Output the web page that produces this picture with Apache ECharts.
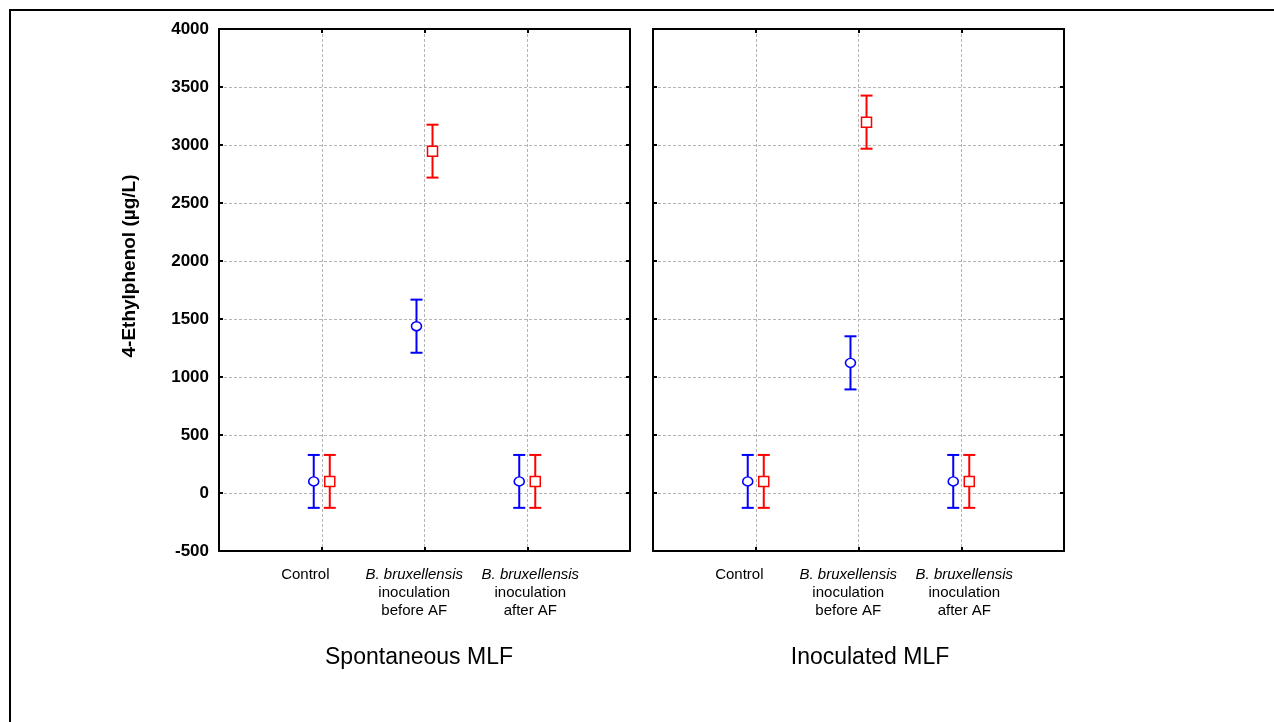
<!DOCTYPE html>
<html>
<head>
<meta charset="utf-8">
<script src="https://cdn.jsdelivr.net/npm/echarts@6/dist/echarts.min.js"></script>
<style>html,body{margin:0;padding:0;background:#fff;}#c{width:1274px;height:722px;}</style>
</head>
<body>
<div id="c"></div>
<script>
// ---- data ----
const categories = ['Control', 'B. bruxellensis|inoculation|before AF', 'B. bruxellensis|inoculation|after AF'];
const categoryPos = [1, 2, 3];
const labelPos = [0.84, 1.9, 3.03];   // where the category text sits (axis units)
const panelTitles = ['Spontaneous MLF', 'Inoculated MLF'];
const yTicks = [-500, 0, 500, 1000, 1500, 2000, 2500, 3000, 3500, 4000];
const yTitle = '4-Ethylphenol (µg/L)';
// Spontaneous MLF
const spontBlueMean = [100, 1438, 100];
const spontBlueErr  = [228, 229, 228];
const spontRedMean  = [100, 2947, 100];
const spontRedErr   = [228, 228, 228];
// Inoculated MLF
const inocBlueMean = [100, 1122, 100];
const inocBlueErr  = [228, 229, 228];
const inocRedMean  = [100, 3197, 100];
const inocRedErr   = [228, 229, 228];

const BLUE = '#0000ff', RED = '#ff0000';
const OFF = 0.078;
const FONT = 'Liberation Sans, Arial, Helvetica, sans-serif';

function pts(mean, err, off) {
  return mean.map((m, i) => [categoryPos[i] + off, m, m - err[i], m + err[i]]);
}

function errSeries(gi, data, color) {
  return {
    type: 'custom', xAxisIndex: gi * 3, yAxisIndex: gi * 2, z: 3,
    data: data,
    renderItem: function (params, api) {
      const x = api.value(0);
      const lo = api.coord([x, api.value(2)]);
      const hi = api.coord([x, api.value(3)]);
      const hw = 6;
      const st = { stroke: color, lineWidth: 2, fill: null };
      return {
        type: 'group',
        children: [
          { type: 'line', shape: { x1: lo[0], y1: lo[1], x2: hi[0], y2: hi[1] }, style: st },
          { type: 'line', shape: { x1: lo[0] - hw, y1: lo[1], x2: lo[0] + hw, y2: lo[1] }, style: st },
          { type: 'line', shape: { x1: hi[0] - hw, y1: hi[1], x2: hi[0] + hw, y2: hi[1] }, style: st }
        ]
      };
    }
  };
}
function markSeries(gi, data, color, symbol, size) {
  return {
    type: 'scatter', xAxisIndex: gi * 3, yAxisIndex: gi * 2, z: 5,
    symbol: symbol, symbolSize: size,
    itemStyle: { color: '#fff', borderColor: color, borderWidth: 1.5, opacity: 1 },
    emphasis: { disabled: true },
    data: data.map(d => [d[0], d[1]])
  };
}

function labelFmt(v, idx) {
  let i = labelPos.indexOf(v);
  if (i < 0) i = idx;
  if (i < 0 || i >= categories.length) return '';
  const parts = categories[i].split('|');
  if (parts.length === 1) return '{n|' + parts[0] + '}';
  return '{i|' + parts[0] + '}\n{n|' + parts[1] + '}\n{n|' + parts[2] + '}';
}

const gridLeft = [219, 653];
const titleX = [419, 870];
const grids = [], xAxes = [], yAxes = [];
const splitStyle = { color: '#b4b4b4', width: 1, type: [3, 2] };
const axLine = { show: true, onZero: false, lineStyle: { color: '#000', width: 2 } };
const axTick = { show: true, inside: true, length: 4, lineStyle: { color: '#000', width: 2 } };
gridLeft.forEach((l, gi) => {
  grids.push({ left: l, top: 29, width: 411, height: 522, show: false });
  xAxes.push({
    type: 'value', gridIndex: gi, min: 0, max: 4, interval: 1, position: 'bottom',
    axisLine: axLine, axisTick: axTick,
    splitLine: { show: true, lineStyle: splitStyle },
    axisLabel: { show: false }
  });
  xAxes.push({
    type: 'value', gridIndex: gi, min: 0, max: 4, interval: 1, position: 'top',
    axisLine: axLine, axisTick: axTick,
    splitLine: { show: false }, axisLabel: { show: false }
  });
  xAxes.push({
    type: 'value', gridIndex: gi, min: 0, max: 4, position: 'bottom', offset: 0,
    axisLine: { show: false, onZero: false }, axisTick: { show: false }, splitLine: { show: false },
    axisLabel: {
      show: true, margin: 15, customValues: labelPos, formatter: labelFmt, color: '#000', align: 'center',
      showMinLabel: true, showMaxLabel: true,
      rich: {
        n: { fontFamily: FONT, fontSize: 15, lineHeight: 18, color: '#000' },
        i: { fontFamily: FONT, fontSize: 15, lineHeight: 18, fontStyle: 'italic', color: '#000' }
      }
    }
  });
  yAxes.push({
    type: 'value', gridIndex: gi, min: -500, max: 4000, interval: 500, position: 'left',
    axisLine: axLine, axisTick: axTick,
    splitLine: { show: true, lineStyle: splitStyle },
    axisLabel: {
      show: gi === 0, margin: 10, color: '#000', fontFamily: FONT, fontSize: 17, fontWeight: 'bold',
      formatter: v => (yTicks.indexOf(v) >= 0 ? String(v) : '')
    }
  });
  yAxes.push({
    type: 'value', gridIndex: gi, min: -500, max: 4000, interval: 500, position: 'right',
    axisLine: axLine, axisTick: axTick,
    splitLine: { show: false }, axisLabel: { show: false }
  });
});

const sB = pts(spontBlueMean, spontBlueErr, -OFF);
const sR = pts(spontRedMean, spontRedErr, OFF);
const iB = pts(inocBlueMean, inocBlueErr, -OFF);
const iR = pts(inocRedMean, inocRedErr, OFF);

const graphics = [
  { type: 'rect', shape: { x: 10, y: 10, width: 1400, height: 900 }, style: { fill: null, stroke: '#000', lineWidth: 2 }, z: 0, silent: true },
  { type: 'text', x: 130, y: 266, rotation: Math.PI / 2, silent: true,
    style: { text: yTitle, fill: '#000', font: 'bold 19px ' + FONT, textAlign: 'center', textVerticalAlign: 'middle' } }
];
panelTitles.forEach((t, gi) => graphics.push({
  type: 'text', x: titleX[gi], y: 658, silent: true,
  style: { text: t, fill: '#000', font: '23px ' + FONT, textAlign: 'center', textVerticalAlign: 'middle' }
}));

const chart = echarts.init(document.getElementById('c'), null, { renderer: 'canvas' });
chart.setOption({
  animation: false,
  backgroundColor: '#fff',
  grid: grids, xAxis: xAxes, yAxis: yAxes,
  graphic: graphics,
  series: [
    errSeries(0, sB, BLUE), errSeries(0, sR, RED),
    errSeries(1, iB, BLUE), errSeries(1, iR, RED),
    markSeries(0, sB, BLUE, 'circle', [10, 9]), markSeries(0, sR, RED, 'rect', [10, 10]),
    markSeries(1, iB, BLUE, 'circle', [10, 9]), markSeries(1, iR, RED, 'rect', [10, 10])
  ]
});
</script>
</body>
</html>
